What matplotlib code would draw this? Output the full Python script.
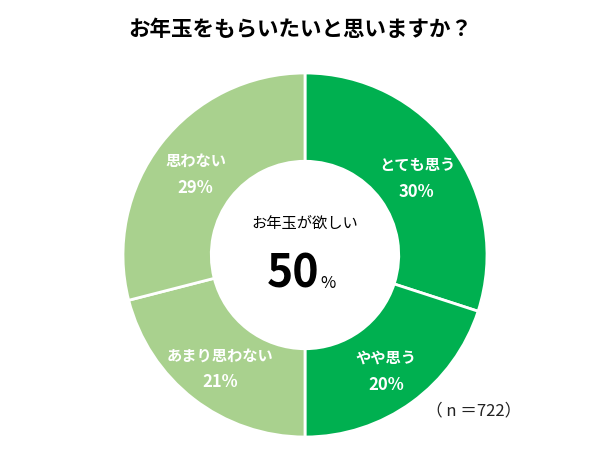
import numpy as np
import matplotlib.pyplot as plt

plt.rcParams['font.family'] = ['Noto Sans CJK JP', 'DejaVu Sans']

# Survey data
title = "お年玉をもらいたいと思いますか？"
categories = ["とても思う", "やや思う", "あまり思わない", "思わない"]
percents = [30, 20, 21, 29]
colors = ["#00B050", "#00B050", "#A9D18E", "#A9D18E"]
center_label = "お年玉が欲しい"
center_value = 50
sample_note = "（ n ＝722）"

fig = plt.figure(figsize=(6, 4.5), dpi=100)
ax = fig.add_axes([0, 0, 1, 1])

# pixel-like coordinates, y up
cx, cy, r = 305, 195, 182
wedges, _ = ax.pie(percents, colors=colors, startangle=90, counterclock=False,
                   radius=r, center=(cx, cy), frame=True,
                   wedgeprops=dict(width=r * 0.485, edgecolor="white", linewidth=2))

# slice labels at the middle of each wedge
for w, cat, p in zip(wedges, categories, percents):
    ang = np.deg2rad((w.theta1 + w.theta2) / 2)
    lr = r * 0.76
    x = cx + lr * np.cos(ang)
    y = cy + lr * np.sin(ang) - 4
    ax.text(x, y + 13, cat, ha="center", va="center", color="white",
            fontsize=11, fontweight="bold")
    ax.text(x, y - 14, f"{p}%", ha="center", va="center", color="white",
            fontsize=12, fontweight="bold")

# center text
ax.text(cx, cy + 32, center_label, ha="center", va="center", fontsize=11)
ax.text(cx + 14, cy - 33, str(center_value), ha="right", va="baseline",
        fontsize=32, fontweight="bold")
ax.text(cx + 15, cy - 33, "%", ha="left", va="baseline", fontsize=12)

ax.text(474, 39, sample_note, ha="center", va="center", fontsize=12, color="#222222")

fig.text(0.5, 1 - 30 / 450, title, ha="center", va="center",
         fontsize=15.5, fontweight="bold")

ax.set_xlim(0, 600)
ax.set_ylim(0, 450)
ax.set_aspect("equal")
ax.axis("off")

fig.savefig("out.png", dpi=100)
